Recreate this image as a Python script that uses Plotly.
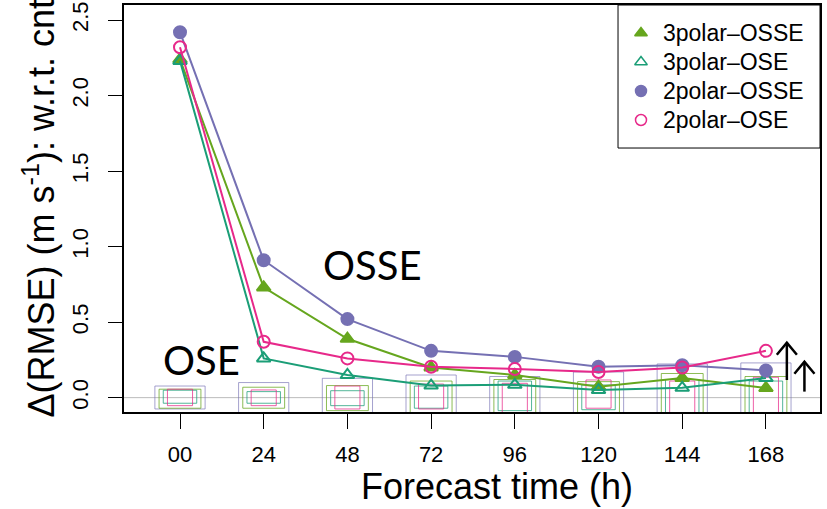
import plotly.graph_objects as go

# ---------------- data ----------------
times = ["00", "24", "48", "72", "96", "120", "144", "168"]

series_names = ["3polar\u2013OSSE", "3polar\u2013OSE", "2polar\u2013OSSE", "2polar\u2013OSE"]
p3_osse = [2.24, 0.73, 0.39, 0.20, 0.15, 0.073, 0.13, 0.064]
p3_ose = [2.23, 0.26, 0.15, 0.08, 0.085, 0.05, 0.065, 0.13]
p2_osse = [2.42, 0.91, 0.52, 0.31, 0.27, 0.205, 0.215, 0.18]
p2_ose = [2.32, 0.37, 0.26, 0.205, 0.19, 0.17, 0.20, 0.31]

# spread boxes (upper / lower) per series
p3_osse_hi = [0.056, 0.069, 0.08, 0.11, 0.12, 0.106, 0.16, 0.14]
p3_osse_lo = [-0.07, -0.07, -0.086, -0.12, -0.12, -0.12, -0.12, -0.12]
p3_ose_hi = [0.049, 0.04, 0.046, 0.077, 0.11, 0.084, 0.12, 0.11]
p3_ose_lo = [-0.037, -0.037, -0.053, -0.07, -0.086, -0.08, -0.12, -0.12]
p2_osse_hi = [0.077, 0.10, 0.128, 0.15, 0.14, 0.17, 0.223, 0.23]
p2_osse_lo = [-0.075, -0.12, -0.12, -0.12, -0.12, -0.12, -0.12, -0.12]
p2_ose_hi = [0.056, 0.051, 0.077, 0.09, 0.095, 0.117, 0.11, 0.135]
p2_ose_lo = [-0.053, -0.053, -0.075, -0.075, -0.12, -0.07, -0.12, -0.12]

# arrows (x position in time-index units, tail value, head value)
arrow_x = [7.25, 7.46]
arrow_tail = [0.117, 0.04]
arrow_head = [0.364, 0.238]

y_ticks = [0.0, 0.5, 1.0, 1.5, 2.0, 2.5]

# ---------------- styles ----------------
colors = ["#66A61E", "#1B9E77", "#7570B3", "#E7298A"]
box_rgba = ["rgba(102,166,30,0.75)", "rgba(27,158,119,0.75)",
            "rgba(117,112,179,0.65)", "rgba(231,41,138,0.75)"]
symbols = ["triangle-up", "triangle-up-open", "circle", "circle-open"]
box_hw = [0.25, 0.20, 0.30, 0.15]
FONT = "Liberation Sans, Arial, Helvetica, sans-serif"

# legend layout (pixel space of the plot area, via overlay axes)
leg_sym_x = 641
leg_txt_x = 661
leg_rows_y = [33, 62, 91, 120]

vals = [p3_osse, p3_ose, p2_osse, p2_ose]
his = [p3_osse_hi, p3_ose_hi, p2_osse_hi, p2_ose_hi]
los = [p3_osse_lo, p3_ose_lo, p2_osse_lo, p2_ose_lo]
xi = list(range(len(times)))

fig = go.Figure()

# boxes underneath (draw widest first)
for k in [2, 0, 1, 3]:
    xs, ys = [], []
    for i in xi:
        hw = box_hw[k]
        xs += [i - hw, i + hw, i + hw, i - hw, i - hw, None]
        ys += [los[k][i], los[k][i], his[k][i], his[k][i], los[k][i], None]
    fig.add_trace(go.Scatter(x=xs, y=ys, mode="lines",
                             line=dict(color=box_rgba[k], width=1),
                             showlegend=False, hoverinfo="skip"))

# series lines + markers
for k in range(4):
    fig.add_trace(go.Scatter(
        x=xi, y=vals[k], mode="lines+markers", name=series_names[k],
        line=dict(color=colors[k], width=2),
        marker=dict(symbol=symbols[k], size=12, color=colors[k],
                    line=dict(color=colors[k], width=2)),
        showlegend=False, hoverinfo="skip"))

# arrows
ax, ay = [], []
dx, dy = 0.12, 0.08
for x0, t, h in zip(arrow_x, arrow_tail, arrow_head):
    ax += [x0, x0, None, x0 - dx, x0, x0 + dx, None]
    ay += [t, h, None, h - dy, h, h - dy, None]
fig.add_trace(go.Scatter(x=ax, y=ay, mode="lines",
                         line=dict(color="black", width=2.5),
                         showlegend=False, hoverinfo="skip"))

# manual legend: symbols on overlay pixel axes + text annotations
for k in range(4):
    fig.add_trace(go.Scatter(
        x=[leg_sym_x], y=[leg_rows_y[k]], xaxis="x2", yaxis="y2",
        mode="markers", showlegend=False, hoverinfo="skip",
        marker=dict(symbol=symbols[k], size=11, color=colors[k],
                    line=dict(color=colors[k], width=1.5))))
    fig.add_annotation(x=leg_txt_x, y=leg_rows_y[k], xref="x2", yref="y2",
                       text=series_names[k], showarrow=False,
                       xanchor="left", yanchor="middle",
                       font=dict(family=FONT, size=23, color="black"))

# zero line
fig.add_shape(type="line", xref="paper", yref="y", x0=0, x1=1, y0=0, y1=0,
              line=dict(color="#bbbbbb", width=1), layer="below")

# legend box
fig.add_shape(type="rect", xref="paper", yref="paper",
              x0=0.7098, x1=1, y0=0.6486, y1=1,
              line=dict(color="black", width=1))

# text labels
fig.add_annotation(x=2.30, y=0.879, xref="x", yref="y", text="OSSE",
                   showarrow=False, font=dict(family="Lato", size=40, color="black"))
fig.add_annotation(x=0.257, y=0.25, xref="x", yref="y", text="OSE",
                   showarrow=False, font=dict(family="Lato", size=40, color="black"))

# axis titles
fig.add_annotation(x=(496.5 - 124) / 696, y=(412 - 487) / 407, xref="paper", yref="paper",
                   text="Forecast time (h)", showarrow=False,
                   xanchor="center", yanchor="middle",
                   font=dict(family=FONT, size=36, color="black"))
fig.add_annotation(x=(38 - 124) / 696, y=0.5, xref="paper", yref="paper",
                   text="\u0394(RMSE) (m s<sup>-1</sup>): w.r.t. cnt", showarrow=False,
                   textangle=-90, xanchor="center", yanchor="middle",
                   font=dict(family=FONT, size=36, color="black"))

fig.update_xaxes(range=[-0.669, 7.646], tickvals=xi, ticktext=times,
                 ticks="outside", ticklen=15, tickcolor="black", tickwidth=1,
                 showline=True, linecolor="black", linewidth=1.5, mirror=True,
                 showgrid=False, zeroline=False, automargin=False,
                 ticklabelstandoff=7,
                 tickfont=dict(family=FONT, size=22, color="black"))
fig.update_yaxes(range=[-0.095, 2.60], tickvals=y_ticks,
                 ticktext=[f"{v:.1f}" for v in y_ticks], tickangle=-90,
                 ticks="outside", ticklen=14, tickcolor="black", tickwidth=1,
                 showline=True, linecolor="black", linewidth=1.5, mirror=True,
                 showgrid=False, zeroline=False, automargin=False,
                 ticklabelstandoff=11,
                 tickfont=dict(family=FONT, size=22, color="black"))

fig.update_layout(
    width=827, height=509,
    margin=dict(l=124, r=7, t=5, b=97),
    plot_bgcolor="white", paper_bgcolor="white",
    showlegend=False,
    xaxis2=dict(overlaying="x", range=[124, 820], visible=False, fixedrange=True),
    yaxis2=dict(overlaying="y", range=[412, 5], visible=False, fixedrange=True),
)

fig.write_html("out.html",
               config={"displayModeBar": False},
               post_script="document.body.style.margin='0px';document.body.style.overflow='hidden';")
